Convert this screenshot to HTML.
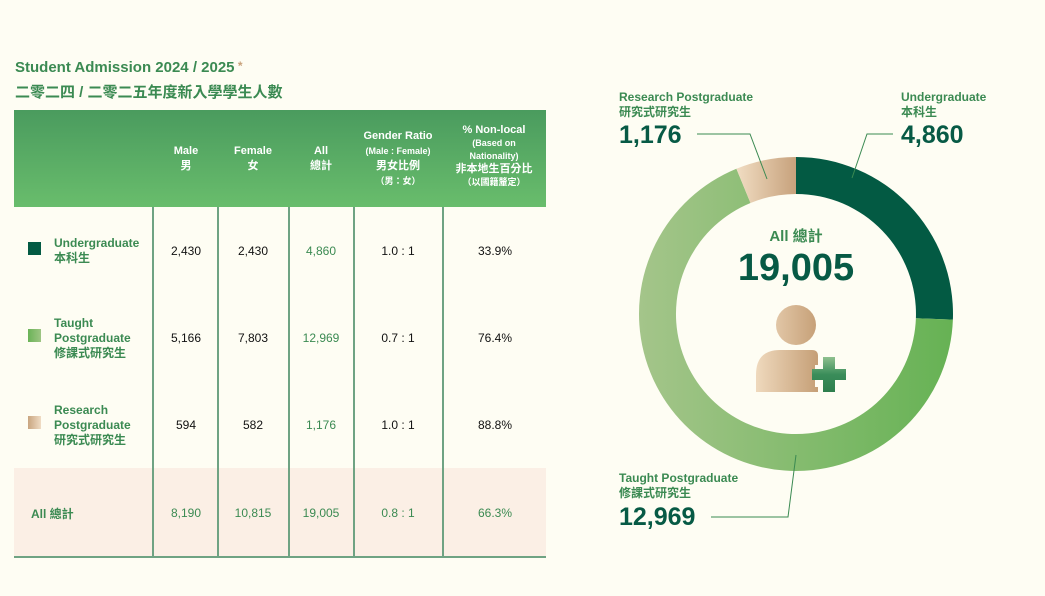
<!DOCTYPE html>
<html><head><meta charset="utf-8"><style>
body{margin:0;width:1045px;height:596px;background:#fefdf3;position:relative;overflow:hidden;font-family:"Liberation Sans","Noto Sans CJK TC",sans-serif}
.a{position:absolute}
.g{color:#3b8a52;font-weight:bold}
.hd{color:#fff;font-weight:bold;font-size:11px;text-align:center;line-height:15px}
.num{font-size:12px;color:#111;text-align:center;width:80px;line-height:14px}
.lab{font-size:12px;color:#3b8a52;font-weight:bold;line-height:15px}
.vl{position:absolute;top:207px;height:350px;width:1.5px;background:#6fa383}
</style></head><body>
<div class="a g" style="left:15px;top:59px;font-size:15px">Student Admission 2024 / 2025<span style="color:#c8a17a;font-size:12px;vertical-align:top"> *</span></div>
<div class="a g" style="left:15px;top:81px;font-size:15px">二零二四 / 二零二五年度新入學學生人數</div>
<div class="a" style="left:14px;top:110px;width:532px;height:97px;background:linear-gradient(#4a9b5e,#69bd6c)"></div>
<div class="a hd" style="left:146px;top:144px;width:80px">Male<br>男</div>
<div class="a hd" style="left:213px;top:144px;width:80px">Female<br>女</div>
<div class="a hd" style="left:281px;top:144px;width:80px">All<br>總計</div>
<div class="a hd" style="left:338px;top:129px;width:120px">Gender Ratio<br><span style="font-size:9px">(Male : Female)</span><br>男女比例<br><span style="font-size:9px">（男：女）</span></div>
<div class="a hd" style="left:434px;top:124px;width:120px;line-height:13px">% Non-local<br><span style="font-size:9px">(Based on<br>Nationality)</span><br>非本地生百分比<br><span style="font-size:9px">（以國籍釐定）</span></div>
<div class="a" style="left:14px;top:468px;width:532px;height:88px;background:#fbefe5"></div>
<div class="a" style="left:14px;top:556px;width:532px;height:2px;background:#6fa383"></div>
<div class="vl" style="left:152px"></div><div class="vl" style="left:217px"></div><div class="vl" style="left:288px"></div><div class="vl" style="left:353px"></div><div class="vl" style="left:442px"></div>
<div class="a" style="left:28px;top:242px;width:13px;height:13px;background:#035a43"></div>
<div class="a" style="left:28px;top:329px;width:13px;height:13px;background:linear-gradient(90deg,#6ab357,#9dc583)"></div>
<div class="a" style="left:28px;top:416px;width:13px;height:13px;background:linear-gradient(90deg,#c9a57f,#efdcc4)"></div>
<div class="a lab" style="left:54px;top:236px">Undergraduate<br>本科生</div>
<div class="a lab" style="left:54px;top:316px">Taught<br>Postgraduate<br>修課式研究生</div>
<div class="a lab" style="left:54px;top:403px">Research<br>Postgraduate<br>研究式研究生</div>
<div class="a lab" style="left:31px;top:507px">All 總計</div>
<div class="a num" style="left:146px;top:244px">2,430</div><div class="a num" style="left:213px;top:244px">2,430</div><div class="a num" style="left:281px;top:244px;color:#3b8a52">4,860</div><div class="a num" style="left:358px;top:244px">1.0 : 1</div><div class="a num" style="left:455px;top:244px">33.9%</div>
<div class="a num" style="left:146px;top:331px">5,166</div><div class="a num" style="left:213px;top:331px">7,803</div><div class="a num" style="left:281px;top:331px;color:#3b8a52">12,969</div><div class="a num" style="left:358px;top:331px">0.7 : 1</div><div class="a num" style="left:455px;top:331px">76.4%</div>
<div class="a num" style="left:146px;top:418px">594</div><div class="a num" style="left:213px;top:418px">582</div><div class="a num" style="left:281px;top:418px;color:#3b8a52">1,176</div><div class="a num" style="left:358px;top:418px">1.0 : 1</div><div class="a num" style="left:455px;top:418px">88.8%</div>
<div class="a num" style="left:146px;top:506px;color:#3b8a52">8,190</div><div class="a num" style="left:213px;top:506px;color:#3b8a52">10,815</div><div class="a num" style="left:281px;top:506px;color:#3b8a52">19,005</div><div class="a num" style="left:358px;top:506px;color:#3b8a52">0.8 : 1</div><div class="a num" style="left:455px;top:506px;color:#3b8a52">66.3%</div>

<svg class="a" style="left:0;top:0" width="1045" height="596">
<defs>
<linearGradient id="tg" x1="639" x2="953" y1="0" y2="0" gradientUnits="userSpaceOnUse"><stop offset="0" stop-color="#a4c58a"/><stop offset="1" stop-color="#66b254"/></linearGradient>
<linearGradient id="rg" x1="736" x2="796" y1="0" y2="0" gradientUnits="userSpaceOnUse"><stop offset="0" stop-color="#f1ddc3"/><stop offset="1" stop-color="#c7a27c"/></linearGradient>
<linearGradient id="pg" x1="756" x2="820" y1="0" y2="0" gradientUnits="userSpaceOnUse"><stop offset="0" stop-color="#efd9bd"/><stop offset="1" stop-color="#c49d74"/></linearGradient>
<linearGradient id="cg" x1="0" x2="0" y1="357" y2="392" gradientUnits="userSpaceOnUse"><stop offset="0" stop-color="#8fc08e"/><stop offset="0.5" stop-color="#3a8d5a"/><stop offset="1" stop-color="#2e7e4d"/></linearGradient>
</defs>
<path d="M796 157 A157 157 0 0 1 952.9 319.6 L915.9 318.3 A120 120 0 0 0 796 194 Z" fill="#035a43"/>
<path d="M952.9 319.6 A157 157 0 1 1 736.4 168.7 L750.5 203 A120 120 0 1 0 915.9 318.3 Z" fill="url(#tg)"/>
<path d="M736.4 168.7 A157 157 0 0 1 796 157 L796 194 A120 120 0 0 0 750.5 203 Z" fill="url(#rg)"/>
<g stroke="#3b8a52" stroke-width="1" fill="none">
<polyline points="852,178 867,134 893,134"/>
<polyline points="697,134 750,134 767,179"/>
<polyline points="796,455 788,517 711,517"/>
</g>
<circle cx="796" cy="325" r="20" fill="url(#pg)"/>
<path d="M756 392 L756 375 Q756 350 780 350 L812 350 Q818 350 818 356 L818 392 Z" fill="url(#pg)"/>
<path d="M815 365 h10 v-3 a2 2 0 0 1 2-2 h10 a2 2 0 0 1 2 2 v3 h8 v22 h-8 v8 h-14 v-8 h-10 Z" fill="#fefdf3"/>
<path d="M823 357 h12 v12 h11 v11 h-11 v12 h-12 v-12 h-11 v-11 h11 Z" fill="url(#cg)"/>
</svg>
<div class="a" style="left:696px;top:225px;width:200px;text-align:center;color:#3b8a52;font-weight:bold;font-size:15px">All 總計</div>
<div class="a" style="left:696px;top:247px;width:200px;text-align:center;color:#075a45;font-weight:bold;font-size:38px">19,005</div>
<div class="a lab" style="left:619px;top:90px">Research Postgraduate<br>研究式研究生</div>
<div class="a" style="left:619px;top:121px;color:#075a45;font-weight:bold;font-size:25px">1,176</div>
<div class="a lab" style="left:901px;top:90px">Undergraduate<br>本科生</div>
<div class="a" style="left:901px;top:121px;color:#075a45;font-weight:bold;font-size:25px">4,860</div>
<div class="a lab" style="left:619px;top:471px">Taught Postgraduate<br>修課式研究生</div>
<div class="a" style="left:619px;top:503px;color:#075a45;font-weight:bold;font-size:25px">12,969</div>
</body></html>
